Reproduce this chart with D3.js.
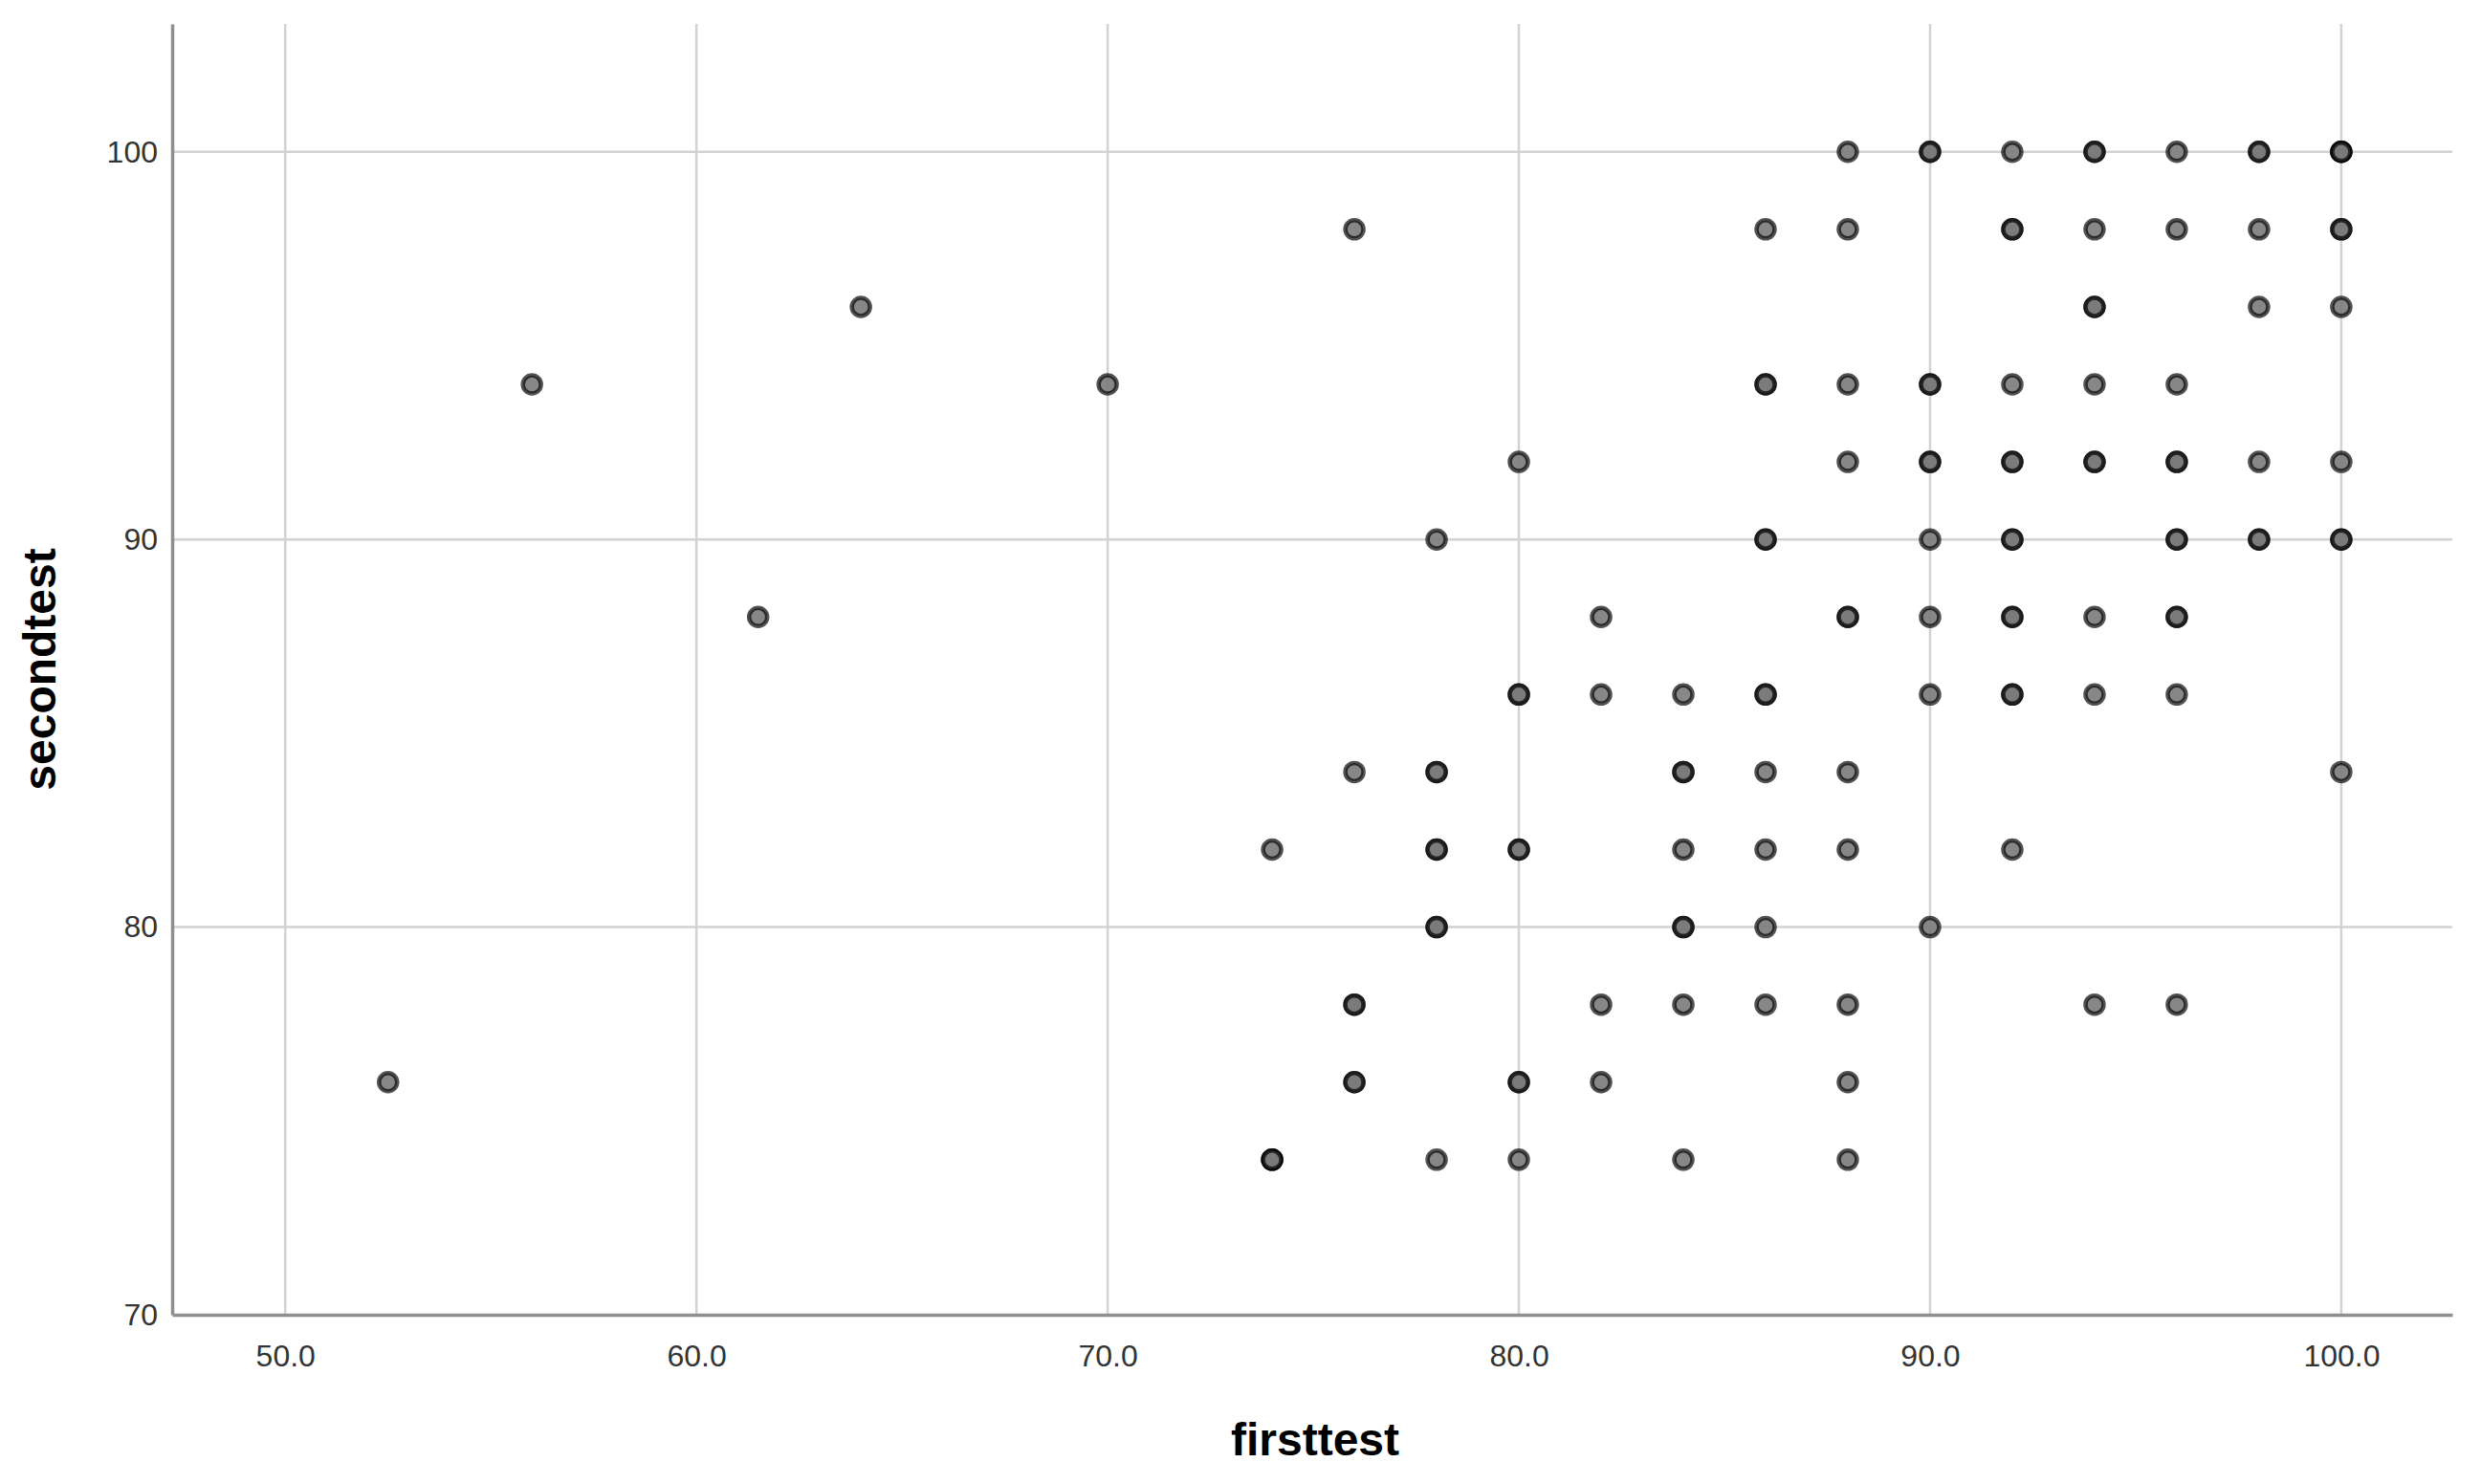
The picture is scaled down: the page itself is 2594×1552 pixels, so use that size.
<!DOCTYPE html>
<html>
<head>
<meta charset="utf-8">
<script src="https://cdnjs.cloudflare.com/ajax/libs/d3/7.8.5/d3.min.js"></script>
<style>
  html, body { margin: 0; padding: 0; background: #fff; }
  svg { display: block; }
</style>
</head>
<body>
<div id="chart"></div>
<script>
// one entry per case; repeated pairs overlap and show darker
let firsttest = [
  88, 90, 90, 92, 94, 94, 96, 98, 98, 100, 100, 100,
  76, 86, 88, 92, 92, 94, 96, 98, 100, 100,
  64, 94, 94, 98, 100,
  56, 70, 86, 86, 88, 90, 90, 92, 94, 96,
  80, 88, 90, 90, 92, 92, 94, 94, 96, 96, 98, 100,
  78, 86, 86, 90, 92, 92, 96, 96, 98, 98, 100, 100,
  61.5, 82, 88, 88, 90, 92, 92, 94, 96, 96,
  80, 80, 82, 84, 86, 86, 90, 92, 92, 94, 96,
  76, 78, 78, 84, 84, 86, 88, 100,
  74, 78, 78, 80, 80, 84, 86, 88, 92,
  78, 78, 84, 84, 86, 90,
  76, 76, 82, 84, 86, 88, 94, 96,
  52.5, 76, 76, 80, 80, 82, 88,
  74, 74, 74, 78, 80, 84, 88
];
let secondtest = [
  100, 100, 100, 100, 100, 100, 100, 100, 100, 100, 100, 100,
  98, 98, 98, 98, 98, 98, 98, 98, 98, 98,
  96, 96, 96, 96, 96,
  94, 94, 94, 94, 94, 94, 94, 94, 94, 94,
  92, 92, 92, 92, 92, 92, 92, 92, 92, 92, 92, 92,
  90, 90, 90, 90, 90, 90, 90, 90, 90, 90, 90, 90,
  88, 88, 88, 88, 88, 88, 88, 88, 88, 88,
  86, 86, 86, 86, 86, 86, 86, 86, 86, 86, 86,
  84, 84, 84, 84, 84, 84, 84, 84,
  82, 82, 82, 82, 82, 82, 82, 82, 82,
  80, 80, 80, 80, 80, 80,
  78, 78, 78, 78, 78, 78, 78, 78,
  76, 76, 76, 76, 76, 76, 76,
  74, 74, 74, 74, 74, 74, 74
];
let xTicks = [50, 60, 70, 80, 90, 100];
let yTicks = [70, 80, 90, 100];
let xTitle = 'firsttest';
let yTitle = 'secondtest';

let width = 2594, height = 1552;
let plot = {left: 180, right: 2564, top: 25, bottom: 1375};

let svg = d3.select('#chart').append('svg')
  .attr('width', width).attr('height', height)
  .style('font-family', '"Liberation Sans", Arial, sans-serif');

svg.append('rect').attr('width', width).attr('height', height).attr('fill', '#fff');

let xScale = d3.scaleLinear().domain([47.25, 102.7]).range([plot.left, plot.right]);
let yScale = d3.scaleLinear().domain([70, 103.3]).range([plot.bottom, plot.top]);

// grid
let grid = svg.append('g').attr('class', 'grid');
grid.selectAll('.vgrid').data(xTicks).enter().append('line')
  .attr('class', 'vgrid')
  .attr('x1', d => xScale(d)).attr('x2', d => xScale(d))
  .attr('y1', plot.top).attr('y2', plot.bottom)
  .attr('stroke', '#d2d2d2').attr('stroke-width', 2.5);
grid.selectAll('.hgrid').data(yTicks.filter(d => d > 70)).enter().append('line')
  .attr('class', 'hgrid')
  .attr('x1', plot.left).attr('x2', plot.right)
  .attr('y1', d => yScale(d)).attr('y2', d => yScale(d))
  .attr('stroke', '#d2d2d2').attr('stroke-width', 2.5);

// axes
let xAxis = d3.axisBottom(xScale).tickValues(xTicks).tickFormat(d3.format('.1f'))
  .tickSize(0).tickPadding(31);
let yAxis = d3.axisLeft(yScale).tickValues(yTicks).tickFormat(d3.format('d'))
  .tickSize(0).tickPadding(15);

let gx = svg.append('g').attr('class', 'xAxis')
  .attr('transform', 'translate(' + [0, plot.bottom] + ')')
  .call(xAxis);
let gy = svg.append('g').attr('class', 'yAxis')
  .attr('transform', 'translate(' + [plot.left, 0] + ')')
  .call(yAxis);

[gx, gy].forEach(g => {
  g.select('.domain').attr('stroke', '#8f8f8f').attr('stroke-width', 3.5);
  g.selectAll('text').attr('font-size', 32).attr('fill', '#333')
    .attr('font-family', '"Liberation Sans", Arial, sans-serif');
});

// points
let points = firsttest.map((d, i) => [d, secondtest[i]]);
svg.append('g').attr('class', 'points')
  .selectAll('circle').data(points).enter().append('circle')
  .attr('cx', d => xScale(d[0]))
  .attr('cy', d => yScale(d[1]))
  .attr('r', 9.5)
  .attr('fill', '#7a7a7a').attr('fill-opacity', 0.9)
  .attr('stroke', '#000').attr('stroke-opacity', 0.68)
  .attr('stroke-width', 4.5);

// titles
svg.append('text').text(xTitle)
  .attr('x', (plot.left + plot.right) / 2 + 3).attr('y', 1522)
  .attr('text-anchor', 'middle')
  .attr('font-size', 48).attr('font-weight', 'bold').attr('fill', '#000');

svg.append('text').text(yTitle)
  .attr('transform', 'translate(' + [58, 700] + ') rotate(-90)')
  .attr('text-anchor', 'middle')
  .attr('font-size', 48).attr('font-weight', 'bold').attr('fill', '#000');
</script>
</body>
</html>
